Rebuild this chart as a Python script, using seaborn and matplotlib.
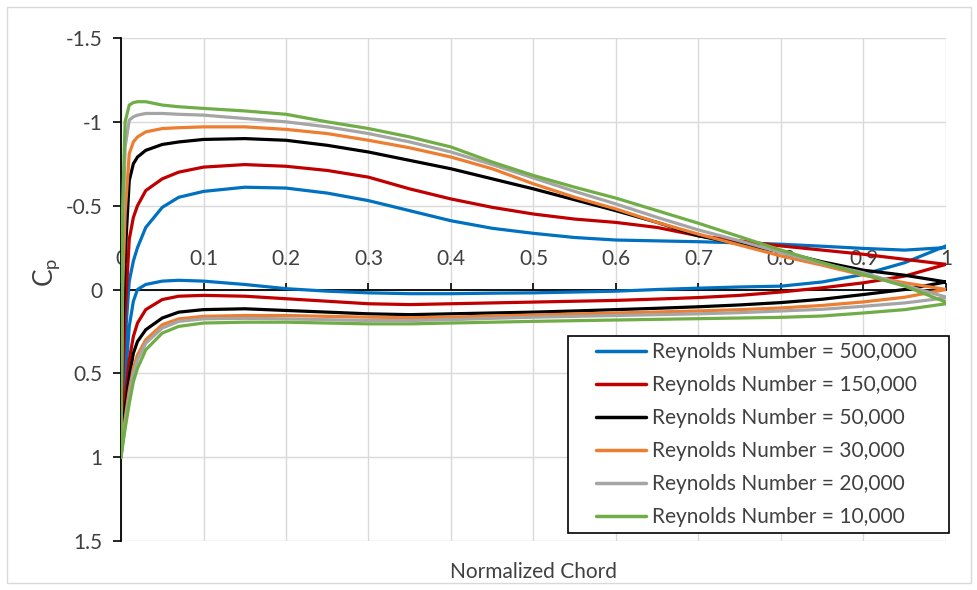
import matplotlib
matplotlib.use("Agg")
import matplotlib.pyplot as plt
import pandas as pd
import seaborn as sns
from matplotlib.patches import Rectangle

# Chord stations (x/c) shared by the upper and lower surface readings
chord = [0, 0.002, 0.005, 0.01, 0.015, 0.02, 0.03, 0.05, 0.07, 0.1, 0.15, 0.2,
         0.25, 0.3, 0.35, 0.4, 0.45, 0.5, 0.55, 0.6, 0.65, 0.7, 0.75, 0.8,
         0.85, 0.9, 0.95, 1.0]

series_labels = ["Reynolds Number = 500,000", "Reynolds Number = 150,000",
                 "Reynolds Number = 50,000", "Reynolds Number = 30,000",
                 "Reynolds Number = 20,000", "Reynolds Number = 10,000"]
series_colors = ["#0070C0", "#C00000", "#000000", "#ED7D31", "#A5A5A5", "#70AD47"]

# Pressure coefficient on the suction (upper) surface
cp_upper_500k = [1.0, 0.6, 0.3, -0.05, -0.17, -0.25, -0.37, -0.49, -0.55, -0.585,
                 -0.61, -0.605, -0.575, -0.53, -0.47, -0.41, -0.365, -0.335, -0.31,
                 -0.295, -0.29, -0.285, -0.278, -0.27, -0.258, -0.245, -0.235, -0.25]
cp_upper_150k = [1.0, 0.55, 0.15, -0.3, -0.43, -0.5, -0.59, -0.66, -0.7, -0.73,
                 -0.745, -0.735, -0.71, -0.67, -0.6, -0.54, -0.49, -0.45, -0.42,
                 -0.4, -0.37, -0.32, -0.29, -0.26, -0.235, -0.21, -0.18, -0.15]
cp_upper_50k = [1.0, 0.3, -0.2, -0.65, -0.75, -0.79, -0.83, -0.865, -0.88, -0.895,
                -0.9, -0.89, -0.86, -0.82, -0.77, -0.72, -0.66, -0.6, -0.535,
                -0.47, -0.4, -0.32, -0.27, -0.225, -0.165, -0.115, -0.085, -0.045]
cp_upper_30k = [1.0, 0.0, -0.45, -0.81, -0.88, -0.91, -0.94, -0.96, -0.965, -0.97,
                -0.97, -0.955, -0.93, -0.89, -0.845, -0.79, -0.72, -0.63, -0.55,
                -0.48, -0.4, -0.33, -0.265, -0.2, -0.145, -0.085, -0.04, 0.0]
cp_upper_20k = [1.0, -0.3, -0.85, -1.01, -1.03, -1.04, -1.05, -1.05, -1.045, -1.04,
                -1.02, -1.0, -0.97, -0.93, -0.88, -0.82, -0.745, -0.665, -0.585,
                -0.51, -0.43, -0.355, -0.29, -0.22, -0.155, -0.1, -0.025, 0.045]
cp_upper_10k = [1.0, -0.5, -1.0, -1.1, -1.115, -1.12, -1.12, -1.1, -1.09, -1.08,
                -1.065, -1.045, -1.0, -0.96, -0.91, -0.85, -0.76, -0.68, -0.61,
                -0.545, -0.47, -0.395, -0.315, -0.235, -0.16, -0.09, -0.02, 0.075]

# Pressure coefficient on the pressure (lower) surface
cp_lower_500k = [1.0, 0.8, 0.55, 0.22, 0.07, 0.0, -0.03, -0.05, -0.055, -0.05,
                 -0.03, -0.005, 0.01, 0.02, 0.025, 0.025, 0.022, 0.02, 0.015,
                 0.01, 0.0, -0.008, -0.015, -0.02, -0.045, -0.09, -0.16, -0.26]
cp_lower_150k = [1.0, 0.85, 0.65, 0.42, 0.28, 0.2, 0.12, 0.06, 0.04, 0.035,
                 0.04, 0.055, 0.07, 0.085, 0.09, 0.085, 0.08, 0.075, 0.07,
                 0.065, 0.057, 0.048, 0.035, 0.015, -0.01, -0.04, -0.08, -0.15]
cp_lower_50k = [1.0, 0.88, 0.72, 0.52, 0.38, 0.31, 0.24, 0.17, 0.135, 0.12,
                0.115, 0.125, 0.135, 0.145, 0.15, 0.145, 0.14, 0.135, 0.128,
                0.12, 0.112, 0.103, 0.092, 0.078, 0.058, 0.03, 0.0, -0.045]
cp_lower_30k = [1.0, 0.9, 0.77, 0.6, 0.47, 0.39, 0.3, 0.21, 0.175, 0.16,
                0.155, 0.155, 0.16, 0.165, 0.168, 0.165, 0.158, 0.152, 0.146,
                0.14, 0.134, 0.128, 0.12, 0.11, 0.095, 0.074, 0.046, 0.0]
cp_lower_20k = [1.0, 0.92, 0.8, 0.63, 0.5, 0.42, 0.32, 0.23, 0.19, 0.175,
                0.172, 0.175, 0.18, 0.185, 0.185, 0.18, 0.172, 0.165, 0.16,
                0.155, 0.15, 0.145, 0.138, 0.128, 0.118, 0.1, 0.08, 0.05]
cp_lower_10k = [1.0, 0.93, 0.83, 0.68, 0.55, 0.47, 0.36, 0.26, 0.22, 0.2,
                0.195, 0.195, 0.2, 0.205, 0.205, 0.2, 0.195, 0.19, 0.186,
                0.182, 0.178, 0.174, 0.17, 0.166, 0.158, 0.14, 0.12, 0.085]

upper_sets = [cp_upper_500k, cp_upper_150k, cp_upper_50k,
              cp_upper_30k, cp_upper_20k, cp_upper_10k]
lower_sets = [cp_lower_500k, cp_lower_150k, cp_lower_50k,
              cp_lower_30k, cp_lower_20k, cp_lower_10k]

x_ticks = [0, 0.1, 0.2, 0.3, 0.4, 0.5, 0.6, 0.7, 0.8, 0.9, 1.0]
x_tick_labels = ["0", "0.1", "0.2", "0.3", "0.4", "0.5", "0.6", "0.7", "0.8", "0.9", "1"]
y_ticks = [-1.5, -1.0, -0.5, 0.0, 0.5, 1.0, 1.5]
y_tick_labels = ["-1.5", "-1", "-0.5", "0", "0.5", "1", "1.5"]

sns.set_theme(style="white")
plt.rcParams["font.family"] = ["Lato", "DejaVu Sans"]
plt.rcParams["mathtext.fontset"] = "custom"
plt.rcParams["mathtext.rm"] = "Lato"
text_color = "#404040"
fs = 15

fig = plt.figure(figsize=(9.78, 5.90), dpi=100)
fig.patch.set_facecolor("white")
# thin chart-area border
fig.patches.append(Rectangle((7 / 978, 7 / 590), 964 / 978, 576 / 590,
                             transform=fig.transFigure, fill=False,
                             edgecolor="#D9D9D9", lw=1.0))

ax = fig.add_axes([121 / 978, (590 - 541) / 590, 825 / 978, 503 / 590])

# Each curve runs trailing edge -> leading edge on the upper surface,
# then leading edge -> trailing edge on the lower surface
frames = []
for label, up, lo in zip(series_labels, upper_sets, lower_sets):
    xs = chord[::-1] + chord[1:]
    ys = up[::-1] + lo[1:]
    frames.append(pd.DataFrame({"x": xs, "cp": ys, "series": label}))
data = pd.concat(frames, ignore_index=True)

for label, color in zip(series_labels, series_colors):
    sub = data[data["series"] == label]
    sns.lineplot(data=sub, x="x", y="cp", sort=False, estimator=None,
                 color=color, lw=2.3, label=label, ax=ax, zorder=3)
for line in ax.get_lines():
    line.set_solid_joinstyle("round")
    line.set_solid_capstyle("round")

ax.set_xlim(0, 1)
ax.set_ylim(1.5, -1.5)

# Horizontal axis drawn through Cp = 0, labels above it
ax.xaxis.tick_top()
ax.spines["top"].set_position(("data", 0))
ax.spines["bottom"].set_visible(False)
ax.spines["right"].set_visible(False)
for s in ("top", "left"):
    ax.spines[s].set_color("black")
    ax.spines[s].set_linewidth(1.3)
    ax.spines[s].set_zorder(2.5)

ax.set_xticks(x_ticks, x_tick_labels)
ax.set_yticks(y_ticks, y_tick_labels)
ax.tick_params(axis="x", direction="out", length=5, width=1.2, color="black",
               pad=9.5, labelsize=fs, labelcolor=text_color)
ax.tick_params(axis="y", direction="out", length=5.5, width=1.2, color="black",
               pad=8, labelsize=fs, labelcolor=text_color, left=True)

ax.grid(True, color="#D9D9D9", lw=1.0)
ax.set_axisbelow(True)

ax.xaxis.set_label_position("bottom")
ax.set_xlabel("Normalized Chord", fontsize=fs, color=text_color, labelpad=15)
ax.set_ylabel(r"$\mathregular{C_p}$", fontsize=19, color=text_color)
ax.yaxis.set_label_coords(-0.072, 0.535)

# Legend content with a separately drawn frame
leg = ax.legend(loc="center left", bbox_to_anchor=(0.5758, 0.2117),
                frameon=False, fontsize=fs, handlelength=2.4,
                handletextpad=0.3, labelspacing=0.62, borderpad=0,
                borderaxespad=0)
for t in leg.get_texts():
    t.set_color(text_color)
for h in leg.legend_handles:
    h.set_linewidth(2.5)
leg.set_zorder(6)
ax.add_patch(Rectangle((0.5418, 0.0159), 0.4618, 0.3917, transform=ax.transAxes,
                       facecolor="white", edgecolor="black", lw=1.2,
                       zorder=5, clip_on=False))

fig.savefig("out.png", dpi=100, facecolor="white")
